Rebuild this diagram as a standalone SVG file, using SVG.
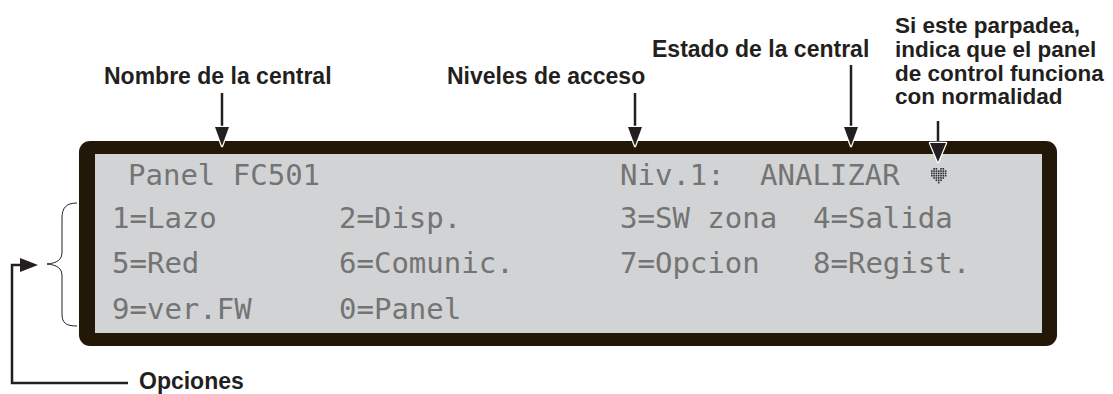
<svg xmlns="http://www.w3.org/2000/svg" width="1113" height="394" viewBox="0 0 1113 394">
<style>
.lbl{font-family:"Liberation Sans",Arial,sans-serif;font-weight:bold;font-size:23px;fill:#231f20}
.rb{font-size:22.5px}
.lcd{font-family:"DejaVu Sans Mono","Liberation Mono",monospace;font-size:29px;fill:#747474}
.ln{stroke:#231f20;stroke-width:2.5;fill:none}
.hd{fill:#231f20;stroke:#fff;stroke-width:2.5;paint-order:stroke;stroke-linejoin:round}
.dot{fill:#2a2a2a}
</style>
<rect width="1113" height="394" fill="#fff"/>
<g id="panel">
<rect x="79" y="141" width="978" height="205" rx="11" fill="#231808"/>
<rect x="95" y="154" width="947" height="179" fill="#d1d3d4"/>
</g>
<g id="lcd-text">
<text class="lcd" x="128" y="185">Panel FC501</text>
<text class="lcd" x="620" y="185">Niv.1:</text>
<text class="lcd" x="760" y="185">ANALIZAR</text>
<text class="lcd" x="112" y="228">1=Lazo</text>
<text class="lcd" x="339" y="228">2=Disp.</text>
<text class="lcd" x="620" y="228">3=SW zona</text>
<text class="lcd" x="813" y="228">4=Salida</text>
<text class="lcd" x="112" y="273">5=Red</text>
<text class="lcd" x="339" y="273">6=Comunic.</text>
<text class="lcd" x="620" y="273">7=Opcion</text>
<text class="lcd" x="813" y="273">8=Regist.</text>
<text class="lcd" x="112" y="319">9=ver.FW</text>
<text class="lcd" x="339" y="319">0=Panel</text>
</g>
<g id="heartbeat">
<g class="dot">
<rect x="933.3" y="168" width="1.6" height="1.6"/><rect x="935.6" y="168" width="1.6" height="1.6"/><rect x="940.2" y="168" width="1.6" height="1.6"/><rect x="942.5" y="168" width="1.6" height="1.6"/>
<rect x="931" y="170.3" width="1.6" height="1.6"/><rect x="933.3" y="170.3" width="1.6" height="1.6"/><rect x="935.6" y="170.3" width="1.6" height="1.6"/><rect x="937.9" y="170.3" width="1.6" height="1.6"/><rect x="940.2" y="170.3" width="1.6" height="1.6"/><rect x="942.5" y="170.3" width="1.6" height="1.6"/><rect x="944.8" y="170.3" width="1.6" height="1.6"/>
<rect x="931" y="172.6" width="1.6" height="1.6"/><rect x="933.3" y="172.6" width="1.6" height="1.6"/><rect x="935.6" y="172.6" width="1.6" height="1.6"/><rect x="937.9" y="172.6" width="1.6" height="1.6"/><rect x="940.2" y="172.6" width="1.6" height="1.6"/><rect x="942.5" y="172.6" width="1.6" height="1.6"/><rect x="944.8" y="172.6" width="1.6" height="1.6"/>
<rect x="931" y="174.9" width="1.6" height="1.6"/><rect x="933.3" y="174.9" width="1.6" height="1.6"/><rect x="935.6" y="174.9" width="1.6" height="1.6"/><rect x="937.9" y="174.9" width="1.6" height="1.6"/><rect x="940.2" y="174.9" width="1.6" height="1.6"/><rect x="942.5" y="174.9" width="1.6" height="1.6"/><rect x="944.8" y="174.9" width="1.6" height="1.6"/>
<rect x="933.3" y="177.2" width="1.6" height="1.6"/><rect x="935.6" y="177.2" width="1.6" height="1.6"/><rect x="937.9" y="177.2" width="1.6" height="1.6"/><rect x="940.2" y="177.2" width="1.6" height="1.6"/><rect x="942.5" y="177.2" width="1.6" height="1.6"/>
<rect x="935.6" y="179.5" width="1.6" height="1.6"/><rect x="937.9" y="179.5" width="1.6" height="1.6"/><rect x="940.2" y="179.5" width="1.6" height="1.6"/>
<rect x="937.9" y="181.8" width="1.6" height="1.6"/>
</g>
</g>
<g id="label-nombre"><text class="lbl" x="104" y="84">Nombre de la central</text></g>
<g id="label-niveles"><text class="lbl" x="447" y="84">Niveles de acceso</text></g>
<g id="label-estado"><text class="lbl" x="652" y="57">Estado de la central</text></g>
<g id="label-parpadea">
<text class="lbl rb" x="895" y="33">Si este parpadea,</text>
<text class="lbl rb" x="895" y="57">indica que el panel</text>
<text class="lbl rb" x="895" y="81">de control funciona</text>
<text class="lbl rb" x="895" y="104">con normalidad</text>
</g>
<g id="label-opciones"><text class="lbl" x="139" y="389">Opciones</text></g>
<g id="connectors">
<line class="ln" x1="222" y1="93" x2="222" y2="130"/>
<polygon class="hd" points="215,127 229,127 222,146"/>
<line class="ln" x1="635" y1="93" x2="635" y2="130"/>
<polygon class="hd" points="628,127 642,127 635,146"/>
<line class="ln" x1="851" y1="65" x2="851" y2="130"/>
<polygon class="hd" points="844,127 858,127 851,146"/>
<line class="ln" x1="938" y1="121" x2="938" y2="146"/>
<polygon class="hd" points="930,143 946,143 938,162" stroke-width="3.5"/>
<path d="M77,203 C66,203 62,208 62,218 L62,252 C62,260 57,263 47,264 C57,265 62,268 62,276 L62,314 C62,323 66,326 77,326" fill="none" stroke="#231f20" stroke-width="1"/>
<polyline class="ln" points="128,383 12,383 12,265 26,265" stroke-width="2"/>
<polygon points="20,258 38,265 20,272" fill="#231f20"/>
</g>
</svg>
